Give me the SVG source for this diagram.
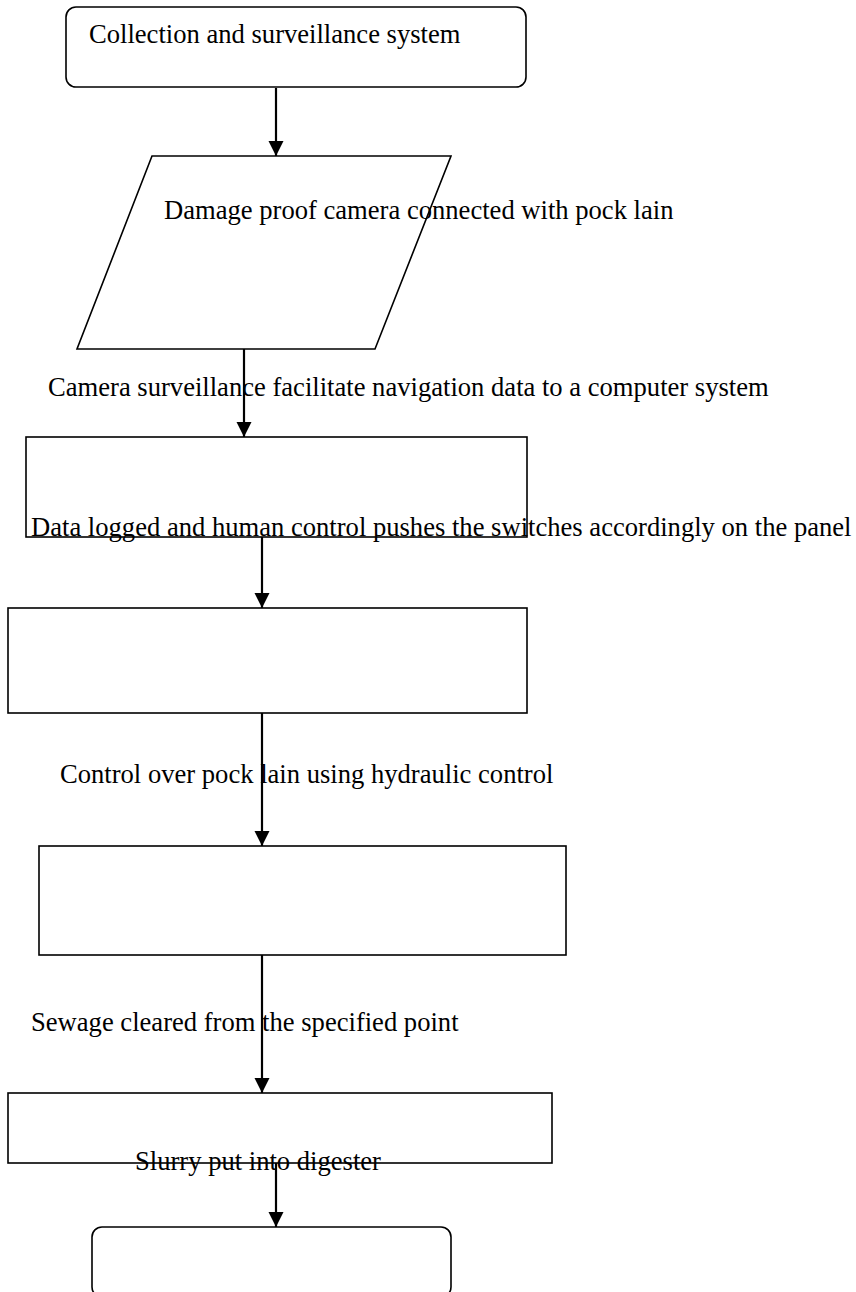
<svg xmlns="http://www.w3.org/2000/svg" width="856" height="1292" viewBox="0 0 856 1292">
<style>
.shape{fill:none;stroke:#000;stroke-width:1.6}
.conn{fill:none;stroke:#000;stroke-width:2.2}
.lbl{font-family:"Liberation Serif","Times New Roman",serif;font-size:26.6px;fill:#000}
</style>
<defs>
<marker id="arr" markerUnits="userSpaceOnUse" markerWidth="16" markerHeight="16" refX="15" refY="7.5" orient="auto">
<path d="M0,0 L15,7.5 L0,15 Z" fill="#000"/>
</marker>
</defs>
<rect width="856" height="1292" fill="#fff"/>
<g id="n1"><rect class="shape" x="66" y="7" width="460" height="80" rx="10"/>
<text class="lbl" x="89" y="43">Collection and surveillance system</text></g>
<g id="n2"><polygon class="shape" points="152,156 451,156 375,349 77,349"/>
<text class="lbl" x="164" y="219">Damage proof camera connected with pock lain</text></g>
<g id="n3"><rect class="shape" x="26" y="437" width="501" height="100"/></g>
<g id="n4"><rect class="shape" x="8" y="608" width="519" height="105"/></g>
<g id="n5"><rect class="shape" x="39" y="846" width="527" height="109"/></g>
<g id="n6"><rect class="shape" x="8" y="1093" width="544" height="70"/></g>
<g id="n7"><rect class="shape" x="92" y="1227" width="359" height="70" rx="10"/></g>
<g id="connectors">
<line class="conn" x1="276" y1="88" x2="276" y2="156" marker-end="url(#arr)"/>
<line class="conn" x1="244" y1="349" x2="244" y2="437" marker-end="url(#arr)"/>
<line class="conn" x1="262" y1="537" x2="262" y2="608" marker-end="url(#arr)"/>
<line class="conn" x1="262" y1="713" x2="262" y2="846" marker-end="url(#arr)"/>
<line class="conn" x1="262" y1="955" x2="262" y2="1093" marker-end="url(#arr)"/>
<line class="conn" x1="276" y1="1163" x2="276" y2="1227" marker-end="url(#arr)"/>
</g>
<g id="labels">
<text class="lbl" x="48" y="396">Camera surveillance facilitate navigation data to a computer system</text>
<text class="lbl" x="31" y="536">Data logged and human control pushes the switches accordingly on the panel</text>
<text class="lbl" x="60" y="783">Control over pock lain using hydraulic control</text>
<text class="lbl" x="31" y="1031">Sewage cleared from the specified point</text>
<text class="lbl" x="135" y="1170">Slurry put into digester</text>
</g>
</svg>
